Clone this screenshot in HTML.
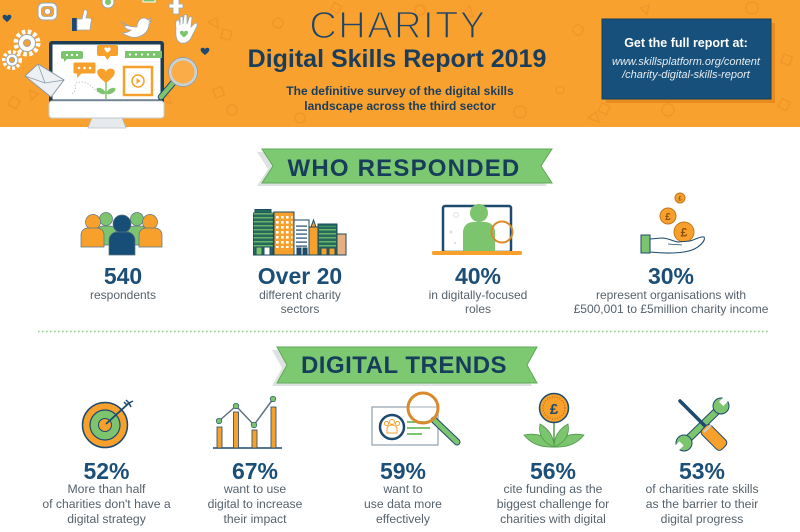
<!DOCTYPE html>
<html><head><meta charset="utf-8">
<style>
html,body{margin:0;padding:0;background:#fff;}
#w{position:relative;width:800px;height:532px;overflow:hidden;font-family:"Liberation Sans",sans-serif;background:#fff;}
svg{position:absolute;left:0;top:0;}
.t{position:absolute;width:300px;text-align:center;white-space:nowrap;}
.n{font-weight:bold;font-size:23px;line-height:23px;color:#1b4f78;}
.d{font-size:12px;line-height:14px;color:#56626c;}
.d2{font-size:12.2px;line-height:15px;color:#56626c;}
.bn{font-weight:bold;font-size:24px;line-height:24px;color:#173d5b;}
</style></head><body><div id="w">
<svg width="800" height="532" viewBox="0 0 800 532" xmlns="http://www.w3.org/2000/svg">
<defs>
<pattern id="wo" width="5" height="5" patternUnits="userSpaceOnUse"><rect x="1" y="1" width="2.6" height="2.6" fill="#fff"/></pattern>
<pattern id="wt" width="4" height="4" patternUnits="userSpaceOnUse"><rect x="0" y="1.2" width="4" height="1.2" fill="#7dc46e"/></pattern>
<pattern id="wn" width="4" height="4" patternUnits="userSpaceOnUse"><rect x="0" y="1.5" width="4" height="1.2" fill="#1d4a6e"/></pattern>
<path id="hrt" d="M0,3 C0,-1 -8,-2 -8,3 C-8,7 -3,10 0,13 C3,10 8,7 8,3 C8,-2 0,-1 0,3Z"/>
</defs>
<!-- HEADER -->
<rect x="0" y="0" width="800" height="127" fill="#F9A12F"/>
<g fill="none" stroke="#F0902A" stroke-width="1.5" opacity="0.7">
<circle cx="278" cy="23" r="5"/><circle cx="420" cy="10" r="5"/><circle cx="578" cy="30" r="5"/>
<circle cx="752" cy="8" r="6"/><circle cx="520" cy="112" r="6"/><circle cx="668" cy="110" r="6"/>
<circle cx="300" cy="118" r="5"/><circle cx="560" cy="90" r="4"/><circle cx="232" cy="110" r="5"/>
<path d="M462,14 l8,-8 l3,11z"/><path d="M640,8 l9,-3 l-2,9z"/><path d="M208,22 l9,-4 l1,10z"/>
<path d="M160,100 l9,-5 l2,9z"/><path d="M588,118 l8,-6 l3,10z"/><path d="M30,90 l8,4 l-7,6z"/>
<rect x="782" y="55" width="9" height="9" transform="rotate(20 786 60)"/>
<rect x="600" y="104" width="9" height="9" transform="rotate(25 604 108)"/>
<rect x="214" y="88" width="9" height="9" transform="rotate(-20 218 92)"/>
<rect x="780" y="100" width="9" height="9" transform="rotate(30 784 104)"/>
<rect x="222" y="30" width="9" height="9" transform="rotate(15 226 34)"/>
<rect x="10" y="98" width="9" height="9" transform="rotate(30 14 102)"/>
<rect x="332" y="4" width="8" height="8" transform="rotate(30 336 8)"/>
</g>
<!-- blue box -->
<rect x="606" y="23" width="169" height="80" fill="#E98C20"/>
<rect x="602" y="19" width="169" height="80" fill="#17507A" stroke="#10405f" stroke-width="1"/>
<!-- gears -->
<g>
<circle cx="27" cy="43" r="11" fill="none" stroke="#fff" stroke-width="5" stroke-dasharray="3.4 2.4"/>
<circle cx="27" cy="43" r="8.5" fill="#fff" stroke="#9aa5ad" stroke-width="1"/>
<circle cx="27" cy="43" r="3.5" fill="#F9A12F" stroke="#9aa5ad" stroke-width="1"/>
<circle cx="12" cy="60" r="8" fill="none" stroke="#fff" stroke-width="4" stroke-dasharray="2.8 2"/>
<circle cx="12" cy="60" r="6" fill="#fff" stroke="#9aa5ad" stroke-width="1"/>
<circle cx="12" cy="60" r="2.6" fill="#F9A12F" stroke="#9aa5ad" stroke-width="1"/>
</g>
<!-- top icons -->
<rect x="38" y="3" width="19" height="17" rx="5" fill="#fff" stroke="#9aa5ad"/>
<rect x="41.5" y="6.5" width="12" height="10" rx="3" fill="#F9A12F" stroke="#9aa5ad" stroke-width=".8"/>
<circle cx="47.5" cy="11.5" r="3" fill="#fff" stroke="#9aa5ad" stroke-width=".8"/>
<circle cx="108" cy="2" r="6" fill="#fff" stroke="#9aa5ad"/><circle cx="108" cy="2" r="3" fill="#7dc46e"/>
<path d="M173,-1 h6 v5 h4 v4 h-4 v6 h-6 v-6 h-4 v-4 h4z" fill="#fff" stroke="#9aa5ad" stroke-width=".8"/>
<rect x="143" y="-2" width="12" height="4" fill="#7dc46e" stroke="#fff"/>
<rect x="72" y="18" width="5" height="13" fill="#1d4a6e"/>
<path d="M77,19 L82,19 L84,10 C86,9 88,11 87,14 L86,18 L90,18 C92,19 92,21 91,22 L90,30 L77,30Z" fill="#fff" stroke="#9aa5ad" stroke-width=".8"/>
<g fill="#fff" stroke="#9aa5ad" stroke-width=".8">
<path d="M121,22 C126,26 131,27 137,27 C137,22 140,18 144,18 C146,18 147,19 148,20 L151,18 L149,22 L152,21 L149,24 C149,32 141,39 131,37 C127,36 124,34 122,33 C126,33 129,32 131,30 C127,30 125,28 124,26 C126,26 127,26 128,25 C124,24 122,22 121,22Z"/>
<path d="M176,28 C175,23 176,20 178,20 C179,20 180,22 180,25 L180,18 C180,16 183,16 183,18 L183,24 L184,16 C184,14 187,14 187,16 L187,24 L189,18 C189,16 192,16 192,18 L191,27 L194,24 C196,22 198,24 197,26 L192,36 C190,41 186,44 181,43 C177,42 175,38 176,28Z"/>
</g>
<use href="#hrt" transform="translate(184,31) scale(.5)" fill="#7dc46e"/>
<use href="#hrt" transform="translate(7,15) scale(.55)" fill="#1d4a6e"/>
<use href="#hrt" transform="translate(205,48) scale(.55)" fill="#1d4a6e"/>
<!-- monitor -->
<rect x="49" y="41" width="115" height="63" rx="3" fill="#1d3d55"/>
<rect x="52.5" y="44.5" width="108" height="55" fill="#fff"/>
<rect x="49" y="101" width="115" height="17" rx="3" fill="#fff" stroke="#c5cdd3"/>
<path d="M92,118 L122,118 L126,128 L88,128Z" fill="#e6eaed" stroke="#b8c1c8" stroke-width=".8"/>
<path d="M72,94 C80,88 70,83 80,82 C88,81 92,88 98,92" fill="none" stroke="#c2c9cf" stroke-width="1" stroke-dasharray="1.5 1.5"/>
<rect x="61" y="51" width="22" height="8" rx="2" fill="#7dc46e"/>
<path d="M64,58 l0,4 l4,-4z" fill="#7dc46e"/>
<g fill="#fff"><circle cx="67" cy="55" r="1.1"/><circle cx="72" cy="55" r="1.1"/><circle cx="77" cy="55" r="1.1"/></g>
<rect x="73" y="62" width="23" height="12" rx="2" fill="#f7a12c" stroke="#fff"/>
<path d="M77,73 l0,5 l5,-5z" fill="#f7a12c"/>
<g fill="#fff"><circle cx="79" cy="68" r="1.3"/><circle cx="84.5" cy="68" r="1.3"/><circle cx="90" cy="68" r="1.3"/></g>
<rect x="97" y="45" width="21" height="11" rx="2" fill="#f7a12c"/>
<path d="M104,55 l3.5,5 l3.5,-5z" fill="#f7a12c"/>
<use href="#hrt" transform="translate(107.5,47.5) scale(.4)" fill="#fff"/>
<rect x="125" y="51" width="37" height="7" fill="#7dc46e"/>
<g fill="#fff"><circle cx="130" cy="54.5" r="1.1"/><circle cx="136" cy="54.5" r="1.1"/><circle cx="142" cy="54.5" r="1.1"/><circle cx="148" cy="54.5" r="1.1"/><circle cx="154" cy="54.5" r="1.1"/></g>
<line x1="106" y1="82" x2="106" y2="99" stroke="#7dc46e" stroke-width="1.5"/>
<ellipse cx="101" cy="91" rx="5" ry="2.5" fill="#7dc46e" transform="rotate(30 101 91)"/>
<ellipse cx="111" cy="91" rx="5" ry="2.5" fill="#7dc46e" transform="rotate(-30 111 91)"/>
<use href="#hrt" transform="translate(106,69) scale(1.1)" fill="#f7a12c"/>
<rect x="124" y="67" width="28" height="28" fill="#fff" stroke="#f7a12c" stroke-width="2.5"/>
<circle cx="138" cy="81" r="6" fill="none" stroke="#f7a12c" stroke-width="1.5"/>
<path d="M136.5,78 l4,3 l-4,3z" fill="#f7a12c"/>
<path d="M25,76 L38,64 L64,80 L51,97Z" fill="#eef1f4" stroke="#8d9aa5" stroke-width="1"/>
<path d="M25,76 L45,83 L64,80 M38,64 L45,83" fill="none" stroke="#8d9aa5" stroke-width=".8"/>
<line x1="173" y1="83" x2="161" y2="97" stroke="#1d4a6e" stroke-width="6.5" stroke-linecap="round"/>
<line x1="173" y1="83" x2="161" y2="97" stroke="#7dc46e" stroke-width="4.5" stroke-linecap="round"/>
<circle cx="183" cy="72" r="13" fill="rgba(255,255,255,0.12)" stroke="#c9d1d6" stroke-width="3"/>
<circle cx="183" cy="72" r="14.5" fill="none" stroke="#8d9aa5" stroke-width=".7"/>

<!-- BANNERS -->
<polygon points="257,152 547,152 536,169 547,186 257,186 268,169" fill="#dfe2e2"/>
<polygon points="262,149 552,149 541,166 552,183 262,183 273,166" fill="#7DC971" stroke="#5ea957" stroke-width="1"/>
<polygon points="272,350 532,350 522,368 532,386 272,386 282,368" fill="#dfe2e2"/>
<polygon points="277,347 537,347 527,365 537,383 277,383 287,365" fill="#7DC971" stroke="#5ea957" stroke-width="1"/>
<line x1="38" y1="331.5" x2="770" y2="331.5" stroke="#8ccf85" stroke-width="1.6" stroke-dasharray="1.6 2.4"/>

<!-- PEOPLE -->
<g stroke="#5b7384" stroke-width=".7">
<circle cx="106" cy="219" r="6.5" fill="#7dc46e"/>
<path d="M97,245 V232 A6,6 0 0 1 103,226 H110 A6,6 0 0 1 116,232 V245Z" fill="#7dc46e"/>
<circle cx="137" cy="219" r="6.5" fill="#7dc46e"/>
<path d="M128,245 V232 A6,6 0 0 1 134,226 H141 A6,6 0 0 1 147,232 V245Z" fill="#7dc46e"/>
<circle cx="93" cy="222" r="7.5" fill="#f7a12c"/>
<path d="M81,247 V235 A7,7 0 0 1 88,228 H97 A7,7 0 0 1 104,235 V247Z" fill="#f7a12c"/>
<circle cx="150" cy="222" r="7.5" fill="#f7a12c"/>
<path d="M139,247 V235 A7,7 0 0 1 146,228 H155 A7,7 0 0 1 162,235 V247Z" fill="#f7a12c"/>
<circle cx="122" cy="224" r="9" fill="#174e77"/>
<path d="M109,255 V240 A8,8 0 0 1 117,232 H127 A8,8 0 0 1 135,240 V255Z" fill="#174e77"/>
</g>
<!-- BUILDINGS -->
<g stroke="#1d4a5e" stroke-width="1">
<rect x="255" y="209.5" width="16" height="3.5" fill="#236b5a"/>
<rect x="253.5" y="213" width="19.5" height="42" fill="#236b5a"/>
<rect x="253.5" y="213" width="19.5" height="34" fill="url(#wt)" stroke="none"/>
<rect x="256" y="247" width="6" height="8" fill="#7dc46e"/><rect x="264" y="247" width="6" height="8" fill="#fff"/>
<rect x="274" y="212" width="20" height="43" fill="#f7a12c"/>
<rect x="275.5" y="214" width="17" height="34" fill="url(#wo)" stroke="none"/>
<rect x="294" y="220" width="15" height="35" fill="#fff"/>
<rect x="296" y="223" width="11" height="24" fill="url(#wn)" stroke="none"/>
<path d="M311,227 L313.5,220 L316,227" fill="#f7a12c"/>
<rect x="309" y="227" width="9" height="28" fill="#f7a12c"/>
<rect x="318" y="224" width="19" height="31" fill="#236b5a"/>
<rect x="319" y="226" width="17" height="22" fill="url(#wt)" stroke="none"/>
<rect x="321" y="248" width="6" height="7" fill="#f7a12c"/><rect x="329" y="248" width="6" height="7" fill="#f7a12c"/>
<rect x="337" y="234" width="9" height="21" fill="#e8b080"/>
<rect x="297" y="248" width="4" height="7" fill="#1d4a6e"/><rect x="303" y="248" width="4" height="7" fill="#1d4a6e"/>
</g>
<!-- LAPTOP -->
<rect x="443" y="206" width="68" height="46" rx="2" fill="#fff" stroke="#1d4a6e" stroke-width="2.5"/>
<circle cx="456" cy="215" r="2.5" fill="none" stroke="#dde2e6"/><circle cx="451" cy="232" r="1.5" fill="#dde2e6"/><circle cx="455" cy="243" r="1.2" fill="#dde2e6"/>
<rect x="432" y="251" width="90" height="4" rx="1.5" fill="#f7a12c"/>
<circle cx="479" cy="213" r="9" fill="#7dc46e"/>
<path d="M463,251 V232 A10,10 0 0 1 473,222 H485 A10,10 0 0 1 495,232 V251Z" fill="#7dc46e"/>
<line x1="495" y1="240" x2="487" y2="249" stroke="#7dc46e" stroke-width="3"/>
<circle cx="502" cy="232" r="10.5" fill="none" stroke="#d98a2b" stroke-width="2"/>
<!-- COINS HAND -->
<g stroke="#c0771d" stroke-width="1" fill="#f7a12c">
<circle cx="680" cy="198" r="5"/><circle cx="668" cy="216" r="8"/><circle cx="684" cy="232" r="10"/>
</g>
<g font-family="Liberation Sans" fill="#8a4f10" text-anchor="middle" font-weight="bold">
<text x="680" y="200.5" font-size="6">£</text><text x="668" y="220" font-size="10">£</text><text x="684" y="236.5" font-size="12">£</text>
</g>
<path d="M650,239 L662,238 C668,238 672,241 678,242 L690,241 C697,239 701,236 704,237 C706,240 700,247 692,250 C684,253 668,254 650,252 Z" fill="#fff" stroke="#1d4a6e" stroke-width="1.1"/>
<path d="M668,244 L682,245" stroke="#1d4a6e" stroke-width=".8" fill="none"/>
<rect x="641" y="235" width="9" height="18" fill="#7dc46e" stroke="#1d4a6e" stroke-width="1"/>

<!-- TARGET -->
<circle cx="105" cy="425" r="22.5" fill="#f7a12c" stroke="#1d4a6e" stroke-width="1.5"/>
<circle cx="105" cy="425" r="15" fill="#7dc46e" stroke="#1d4a6e" stroke-width="1.2"/>
<circle cx="105" cy="425" r="6.5" fill="#f7a12c" stroke="#1d4a6e" stroke-width="1"/>
<line x1="106" y1="424" x2="129" y2="403" stroke="#1d4a6e" stroke-width="1.8"/>
<path d="M126,400 L129,403 L133,401 M128,404 L129,403 L131,407 M124,402 L127,405" stroke="#1d4a6e" stroke-width="1.5" fill="none"/>
<!-- CHART -->
<line x1="213" y1="448" x2="282" y2="448" stroke="#1d4a6e" stroke-width="1.5"/>
<g fill="#f7a12c" stroke="#1d4a6e" stroke-width=".8">
<rect x="217" y="427" width="5" height="21"/><rect x="233.5" y="412" width="5" height="36"/><rect x="252" y="430" width="5" height="18"/><rect x="271" y="407" width="5" height="41"/>
</g>
<polyline points="219,421 236,406 254,425 273,399" fill="none" stroke="#5f7382" stroke-width="1.5"/>
<g fill="#7dc46e" stroke="#1d4a6e" stroke-width=".6">
<circle cx="219" cy="421" r="2.8"/><circle cx="236" cy="406" r="2.8"/><circle cx="254" cy="425" r="2.8"/><circle cx="273" cy="399" r="2.8"/>
</g>
<!-- DATA -->
<rect x="372" y="407" width="66" height="38" fill="#fff" stroke="#8fa0ad" stroke-width="1.2"/>
<circle cx="392" cy="427" r="12" fill="#fff" stroke="#1d4a6e" stroke-width="2.5"/>
<g fill="none" stroke="#f7a12c" stroke-width="1">
<circle cx="392" cy="422" r="2.5"/><path d="M387,433 v-4 a5,4 0 0 1 10,0 v4z"/>
<circle cx="386.5" cy="423.5" r="2"/><circle cx="397.5" cy="423.5" r="2"/>
</g>
<g stroke="#7dc46e" stroke-width="2"><line x1="407" y1="422" x2="428" y2="422"/><line x1="407" y1="428" x2="430" y2="428"/><line x1="407" y1="434" x2="422" y2="434"/></g>
<line x1="434" y1="420" x2="457" y2="442" stroke="#1d4a6e" stroke-width="7" stroke-linecap="round"/>
<line x1="434" y1="420" x2="457" y2="442" stroke="#7dc46e" stroke-width="5" stroke-linecap="round"/>
<circle cx="423" cy="408" r="15" fill="rgba(255,255,255,0.3)" stroke="#d98a2b" stroke-width="3"/>
<!-- FLOWER COIN -->
<line x1="554" y1="422" x2="554" y2="445" stroke="#5a9e4f" stroke-width="1.5"/>
<g fill="#7dc46e" stroke="#4f9a4a" stroke-width=".8">
<path d="M554,447 Q534,448 524,435 Q544,431 554,447Z"/>
<path d="M554,447 Q574,448 584,435 Q564,431 554,447Z"/>
<path d="M554,447 Q537,440 540,424 Q554,432 554,447Z"/>
<path d="M554,447 Q571,440 568,424 Q554,432 554,447Z"/>
</g>
<circle cx="554" cy="408" r="14.5" fill="#f7a12c" stroke="#1d4a6e" stroke-width="1.5"/>
<circle cx="554" cy="408" r="11" fill="none" stroke="#b8660f" stroke-width="1" stroke-dasharray="1 1.6"/>
<text x="554" y="414" font-family="Liberation Sans" font-size="15" font-weight="bold" fill="#1d4a6e" text-anchor="middle">£</text>
<!-- WRENCH & SCREWDRIVER -->
<line x1="721" y1="407" x2="685" y2="442" stroke="#1d4a6e" stroke-width="8" stroke-linecap="round"/>
<line x1="721" y1="407" x2="685" y2="442" stroke="#7dc46e" stroke-width="6" stroke-linecap="round"/>
<circle cx="721" cy="406" r="8" fill="#7dc46e" stroke="#1d4a6e" stroke-width="1"/>
<circle cx="684" cy="443" r="8" fill="#7dc46e" stroke="#1d4a6e" stroke-width="1"/>
<rect x="721" y="396" width="6" height="9" fill="#fff" transform="rotate(45 724 401)"/>
<rect x="675" y="442" width="6" height="10" fill="#fff" transform="rotate(45 678 447)"/>
<line x1="680" y1="401" x2="705" y2="426" stroke="#1d4a6e" stroke-width="3.5" stroke-linecap="round"/>
<rect x="700" y="431" width="28" height="13" rx="4" fill="#f7a12c" stroke="#1d4a6e" stroke-width="1" transform="rotate(45 714 437.5)"/>
<line x1="704" y1="432" x2="711" y2="425" stroke="#c8d0d6" stroke-width="2" />
</svg>

<!-- HEADER TEXT -->
<div class="t" style="left:248px;top:7px;font-size:38px;line-height:38px;color:#1d4568;letter-spacing:1.5px;-webkit-text-stroke:1.4px #F9A12F;">CHARITY</div>
<div class="t" style="left:247px;top:47px;font-size:25px;line-height:25px;font-weight:bold;color:#1a3d5c;">Digital Skills Report 2019</div>
<div class="t" style="left:250px;top:84px;font-size:12px;line-height:15px;font-weight:bold;color:#1a3d5c;">The definitive survey of the digital skills<br>landscape across the third sector</div>
<div class="t" style="left:536px;top:36px;font-size:12.5px;line-height:15px;font-weight:bold;color:#fff;">Get the full report at:</div>
<div class="t" style="left:536px;top:55.5px;font-size:11px;line-height:13px;font-style:italic;color:#e6edf3;">www.skillsplatform.org/content<br>/charity-digital-skills-report</div>

<!-- BANNERS -->
<div class="t bn" style="left:254px;top:157px;letter-spacing:1.2px;">WHO RESPONDED</div>
<div class="t bn" style="left:254px;top:353.5px;letter-spacing:0.5px;">DIGITAL TRENDS</div>

<!-- SECTION 1 -->
<div class="t n" style="left:-27px;top:264.5px;">540</div>
<div class="t d" style="left:-27px;top:288px;">respondents</div>
<div class="t n" style="left:150px;top:264.5px;">Over 20</div>
<div class="t d" style="left:150px;top:288px;">different charity<br>sectors</div>
<div class="t n" style="left:328px;top:264.5px;">40%</div>
<div class="t d" style="left:328px;top:288px;">in digitally-focused<br>roles</div>
<div class="t n" style="left:521px;top:264.5px;">30%</div>
<div class="t d" style="left:521px;top:288px;">represent organisations with<br>£500,001 to £5million charity income</div>

<!-- SECTION 2 -->
<div class="t n" style="left:-43.5px;top:459.5px;">52%</div>
<div class="t d2" style="left:-43.5px;top:481.5px;">More than half<br>of charities don't have a<br>digital strategy</div>
<div class="t n" style="left:105px;top:459.5px;">67%</div>
<div class="t d2" style="left:105px;top:481.5px;">want to use<br>digital to increase<br>their impact</div>
<div class="t n" style="left:253px;top:459.5px;">59%</div>
<div class="t d2" style="left:253px;top:481.5px;">want to<br>use data more<br>effectively</div>
<div class="t n" style="left:403px;top:459.5px;">56%</div>
<div class="t d2" style="left:403px;top:481.5px;">cite funding as the<br>biggest challenge for<br>charities with digital</div>
<div class="t n" style="left:552px;top:459.5px;">53%</div>
<div class="t d2" style="left:552px;top:481.5px;">of charities rate skills<br>as the barrier to their<br>digital progress</div>
</div></body></html>
